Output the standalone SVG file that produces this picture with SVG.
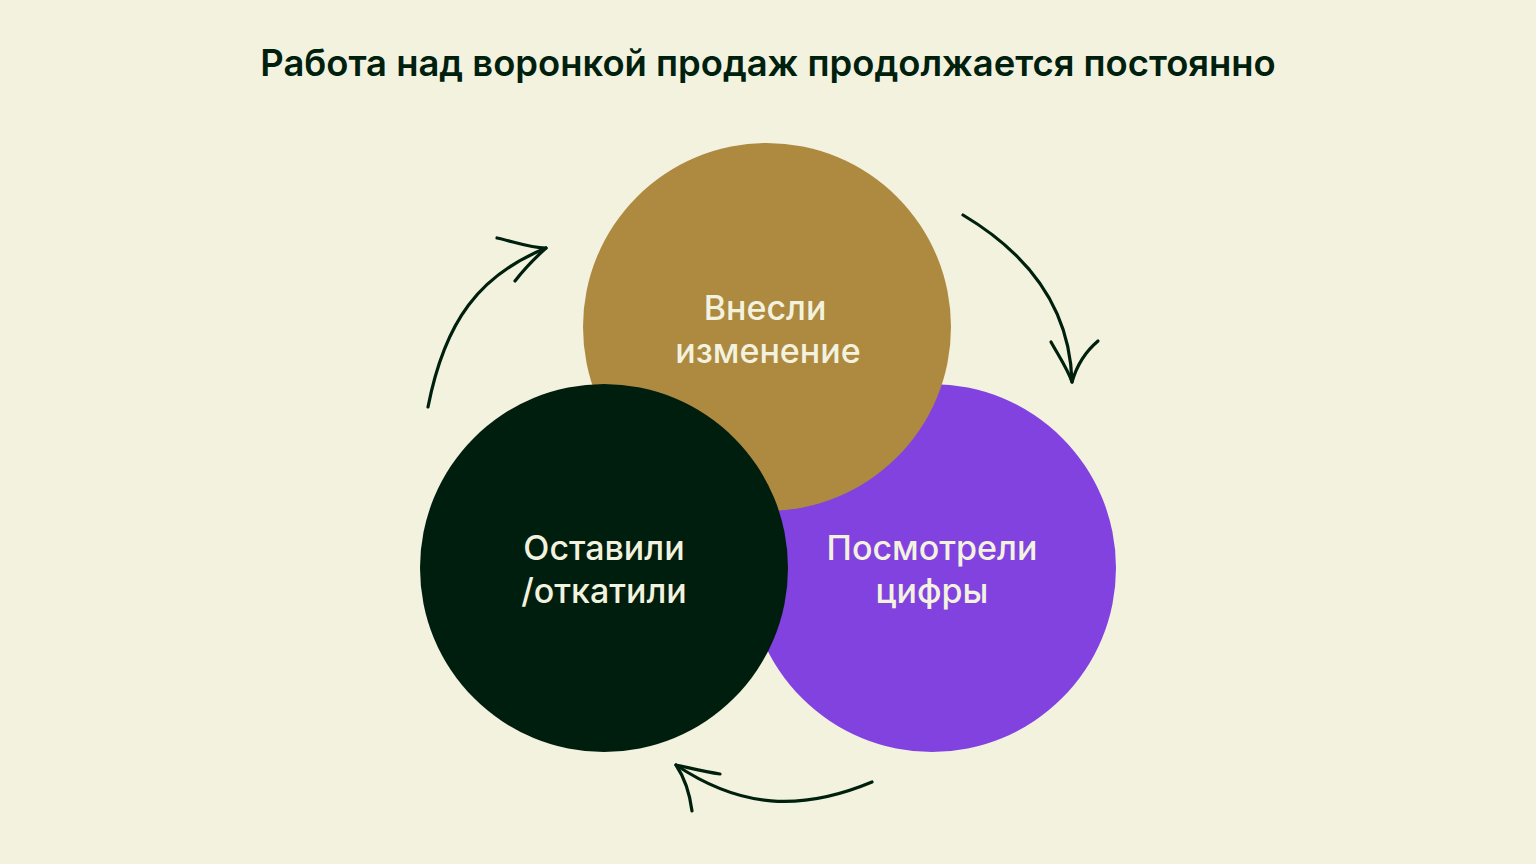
<svg xmlns="http://www.w3.org/2000/svg" width="1536" height="864" viewBox="0 0 1536 864">
<style>
.title{font-family:Inter,"Noto Sans","Liberation Sans",sans-serif;font-weight:600;font-size:36.4px;fill:#00200E;text-anchor:middle}
.lbl{font-family:Inter,"Noto Sans","Liberation Sans",sans-serif;font-weight:500;font-size:34px;fill:#F3F2DF;text-anchor:middle}
.arr{fill:none;stroke:#00200E;stroke-width:3.2;stroke-linecap:round;stroke-linejoin:round}
</style>
<rect width="1536" height="864" fill="#F3F2DF"/>
<text class="title" x="768" y="76">Работа над воронкой продаж продолжается постоянно</text>
<g id="node-numbers">
<circle cx="932" cy="568" r="184" fill="#8142E0"/>
</g>
<g id="node-change">
<circle cx="767" cy="327" r="184" fill="#AE8A41"/>
</g>
<g id="node-keep">
<circle cx="604" cy="568" r="184" fill="#001E0D"/>
</g>
<g id="labels">
<text class="lbl" x="765" y="320">Внесли</text>
<text class="lbl" x="768" y="363">изменение</text>
<text class="lbl" x="604" y="560">Оставили</text>
<text class="lbl" x="604" y="603">/откатили</text>
<text class="lbl" x="932" y="560">Посмотрели</text>
<text class="lbl" x="932" y="603">цифры</text>
</g>
<g id="connectors">
<path class="arr" d="M428,407 C445,320 480,275 546,248"/>
<path class="arr" d="M497,238 C515,242 530,248 546,248 M515,281 C525,268 535,258 546,248"/>
<path class="arr" d="M963,215 C1030,255 1070,310 1072,382"/>
<path class="arr" d="M1051,342 C1060,358 1068,370 1072,382 M1098,341 C1085,352 1076,368 1072,382"/>
<path class="arr" d="M872,782 C800,812 740,808 676,765"/>
<path class="arr" d="M720,774 C705,772 690,768 676,765 M692,811 C690,795 686,780 676,765"/>
</g>
</svg>
